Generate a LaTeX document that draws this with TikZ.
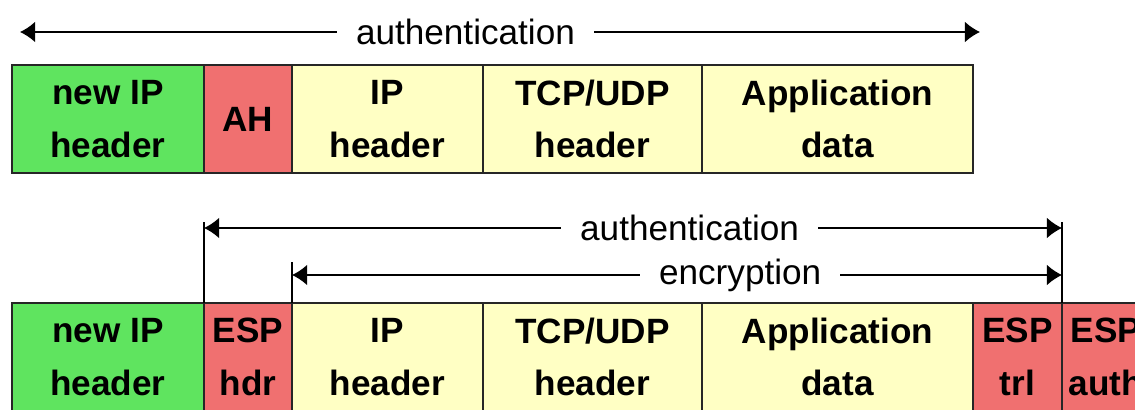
\documentclass[tikz,border=0pt]{standalone}
\usepackage{fontspec}
\setmainfont{Liberation Sans}
\usepackage{tikz}
\usetikzlibrary{arrows.meta,calc,positioning}
\definecolor{hdrgreen}{RGB}{95,228,95}
\definecolor{secred}{RGB}{240,112,112}
\definecolor{datayellow}{RGB}{255,255,196}
\tikzset{
  cell/.style={draw=black!85,line width=1pt,outer sep=0pt,inner sep=0pt,
    minimum height=2.7cm,minimum width=#1,align=center,
    font=\bfseries\fontsize{25}{37.5}\selectfont},
  lbl/.style={fill=white,inner xsep=0.48cm,inner ysep=3pt,font=\fontsize{25}{30}\selectfont},
  span/.style={line width=1pt,{Latex[length=3.8mm,width=5.2mm]}-{Latex[length=3.8mm,width=5.2mm]}},
}
\begin{document}
\begin{tikzpicture}
\useasboundingbox (0,0) rectangle (28.375,-10.25);
\clip (0,0) rectangle (28.375,-10.25);
%AH
\node[cell=4.8cm,fill=hdrgreen,anchor=north west] (newipA) at (0.3,-1.625) {new IP\\header};
\node[cell=2.2cm,fill=secred,right=0pt of newipA] (ah) {AH};
\node[cell=4.775cm,fill=datayellow,right=0pt of ah] (ipA) {IP\\header};
\node[cell=5.475cm,fill=datayellow,right=0pt of ipA] (tcpA) {TCP/UDP\\header};
\node[cell=6.775cm,fill=datayellow,right=0pt of tcpA] (appA) {Application\\data};
\coordinate (authAL) at (0.5,-0.8);
\coordinate (authAR) at (24.5,-0.8);
\draw[span] (authAL) -- node[lbl,pos=0.464] {authentication} (authAR);
%ESP
\node[cell=4.8cm,fill=hdrgreen,anchor=north west] (newipE) at (0.3,-7.575) {new IP\\header};
\node[cell=2.2cm,fill=secred,right=0pt of newipE] (esphdr) {ESP\\hdr};
\node[cell=4.775cm,fill=datayellow,right=0pt of esphdr] (ipE) {IP\\header};
\node[cell=5.475cm,fill=datayellow,right=0pt of ipE] (tcpE) {TCP/UDP\\header};
\node[cell=6.775cm,fill=datayellow,right=0pt of tcpE] (appE) {Application\\data};
\node[cell=2.225cm,fill=secred,right=0pt of appE] (esptrl) {ESP\\trl};
\node[cell=2.2cm,fill=secred,right=0pt of esptrl] (espauth) {ESP\\auth};
\coordinate (authEL) at ($(esphdr.north west)+(0,1.875)$);
\coordinate (authER) at ($(esptrl.north east)+(0,1.875)$);
\coordinate (encL) at ($(ipE.north west)+(0,0.7)$);
\coordinate (encR) at ($(esptrl.north east)+(0,0.7)$);
\draw[line width=1pt] (esphdr.north west) -- ++(0,2.025);
\draw[line width=1pt] (esptrl.north east) -- ++(0,2.025);
\draw[line width=1pt] (ipE.north west) -- ++(0,1.025);
\draw[span] (authEL) -- node[lbl,pos=0.566] {authentication} (authER);
\draw[span] (encL) -- node[lbl,pos=0.582] {encryption} (encR);
\end{tikzpicture}
\end{document}
